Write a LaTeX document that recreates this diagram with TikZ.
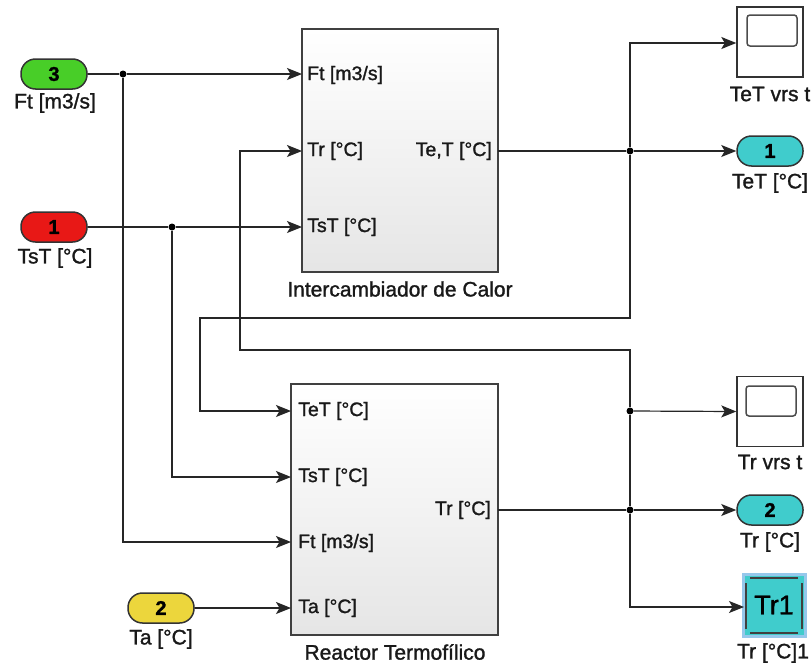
\documentclass[tikz,border=0pt]{standalone}
\usepackage{fontspec}
\setmainfont{Liberation Sans}[FakeBold=1.3]
\usetikzlibrary{arrows.meta}
\definecolor{ingreen}{RGB}{72,206,40}
\definecolor{inred}{RGB}{232,24,22}
\definecolor{inyellow}{RGB}{236,214,60}
\definecolor{outcyan}{RGB}{64,204,204}
\definecolor{selblue}{RGB}{150,200,235}
\tikzset{
  wire/.style={draw=black!85, line width=1.2pt},
  arr/.style={wire, -{Stealth[length=15pt,width=12pt,inset=3.5pt]}},
  pill/.style={draw=black!80, line width=1.5pt, rounded corners=14.5pt, minimum width=66pt, minimum height=30pt, inner sep=0pt, font=\fontsize{20}{22}\selectfont\bfseries},
  blk/.style={draw=black!75, line width=1.3pt, top color=white, bottom color=black!10, inner sep=0pt},
  lbl/.style={font=\fontsize{21}{24}\selectfont, inner sep=0pt, text=black!90},
  plbl/.style={font=\fontsize{19.5}{22}\selectfont, inner sep=0pt, text=black!90},
  junc/.style={circle, fill=black, inner sep=0pt, minimum size=7pt},
  scopebox/.style={draw=black!80, line width=1.4pt, fill=white, minimum width=66pt, minimum height=70pt, inner sep=0pt}
}
\begin{document}
\begin{tikzpicture}[x=1pt,y=-1pt]
\useasboundingbox[fill=white] (0,0) rectangle (811,664);
% inports
\node[pill, fill=ingreen] (in3) at (54,74) {3};
\node[lbl] (in3l) at (55,103) {Ft [m3/s]};
\node[pill, fill=inred] (in1) at (54,227) {1};
\node[lbl] (in1l) at (55,258) {TsT [°C]};
\node[pill, fill=inyellow] (in2) at (161,608) {2};
\node[lbl] (in2l) at (161,639) {Ta [°C]};
% blocks
\node[blk, minimum width=196pt, minimum height=243pt] (hx) at (400,150.5) {};
\node[lbl] (hxl) at (400,289) {Intercambiador de Calor};
\node[blk, minimum width=207pt, minimum height=251pt] (rx) at (394.5,509.5) {};
\node[lbl] (rxl) at (395,652) {Reactor Termofílico};
% ports of hx
\coordinate (hxFt) at (302,74);
\coordinate (hxTr) at (302,151);
\coordinate (hxTsT) at (302,227);
\coordinate (hxOut) at (498,151);
\node[plbl, anchor=west] (hxFtl) at (307,75) {Ft [m3/s]};
\node[plbl, anchor=west] (hxTrl) at (307,151) {Tr [°C]};
\node[plbl, anchor=west] (hxTsTl) at (307,227) {TsT [°C]};
\node[plbl, anchor=east] (hxOutl) at (492,151) {Te,T [°C]};
% ports of rx
\coordinate (rxTeT) at (291,411);
\coordinate (rxTsT) at (291,477);
\coordinate (rxFt) at (291,542);
\coordinate (rxTa) at (291,608);
\coordinate (rxOut) at (498,510);
\node[plbl, anchor=west] (rxTeTl) at (298,411) {TeT [°C]};
\node[plbl, anchor=west] (rxTsTl) at (298,477) {TsT [°C]};
\node[plbl, anchor=west] (rxFtl) at (298,543) {Ft [m3/s]};
\node[plbl, anchor=west] (rxTal) at (298,608) {Ta [°C]};
\node[plbl, anchor=east] (rxOutl) at (491,510) {Tr [°C]};
% scopes
\node[scopebox] (sc1) at (770,42) {};
\draw[draw=black!70, line width=1.5pt, rounded corners=3pt] (747,15) rectangle (797,46);
\node[lbl] (sc1l) at (770,94) {TeT vrs t};
\node[scopebox] (sc2) at (770,411.5) {};
\draw[draw=black!70, line width=1.5pt, rounded corners=3pt] (746,386) rectangle (796,416);
\node[lbl] (sc2l) at (770,462) {Tr vrs t};
% outports
\node[pill, fill=outcyan] (out1) at (770,151) {1};
\node[lbl] (out1l) at (770,183) {TeT [°C]};
\node[pill, fill=outcyan] (out2) at (770,510) {2};
\node[lbl] (out2l) at (770,542) {Tr [°C]};
% display
\node[draw=selblue, line width=3pt, fill=outcyan, minimum width=62pt, minimum height=62pt, inner sep=0pt, font=\fontsize{27}{30}\selectfont] (disp) at (774,605) {Tr1};
\draw[draw=black!75, line width=2.2pt] (750,578) -- (798,578) (750,633) -- (798,633) (746,583) -- (746,629) (802,583) -- (802,629);
\node[lbl] (displ) at (773,653) {Tr [°C]1};
% junctions
\node[junc] (j1) at (123,74) {};
\node[junc] (j2) at (172,227) {};
\node[junc] (j3) at (630,151) {};
\node[junc] (j4) at (630,510) {};
\node[junc] (j5) at (630,411) {};
\coordinate (dispIn) at (744,607);
% wires
\draw[arr] (in3.east) -- (j1) -- (hxFt);
\draw[arr] (j1) |- (rxFt);
\draw[arr] (in1.east) -- (j2) -- (hxTsT);
\draw[arr] (j2) |- (rxTsT);
\draw[arr] (in2.east) -- (rxTa);
\draw[arr] (hxOut) -- (j3) -- (out1.west);
\draw[arr] (j3) |- (sc1.west |- 0,43);
\draw[arr] (j3) -- (630,318) -- (200,318) |- (rxTeT);
\draw[arr] (rxOut) -- (j4) -- (out2.west);
\draw[arr] (j5) -- (sc2.west);
\draw[wire] (j5) -- (j4);
\draw[arr] (j4) |- (dispIn);
\draw[arr] (j5) -- (630,350) -- (240,350) |- (hxTr);
\end{tikzpicture}
\end{document}
